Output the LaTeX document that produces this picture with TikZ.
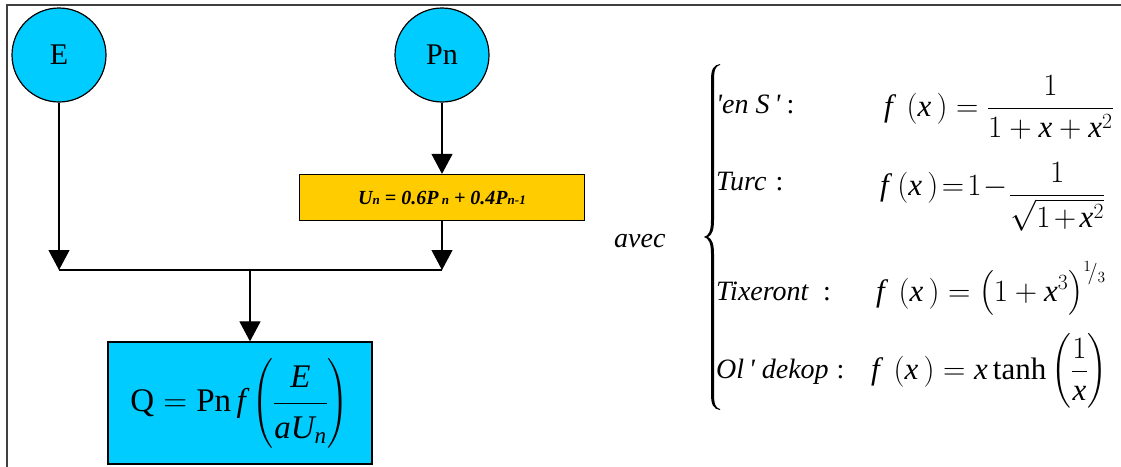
\RequirePackage{fix-cm}
\documentclass[tikz,border=0pt]{standalone}
\usepackage{amsmath}
\usepackage{fontspec}
\setmainfont{Liberation Serif}
\newfontfamily\tnr{Liberation Serif}
\usetikzlibrary{arrows.meta}
\definecolor{cyanfill}{RGB}{0,204,255}
\definecolor{yellowfill}{RGB}{255,204,0}
\definecolor{framecol}{RGB}{64,64,64}
\newcommand\mi[1]{\textit{#1}}
\newcommand\lowsub[1]{{\fontsize{13}{13}\selectfont #1}}
\newcommand\qt{\textquotesingle}
\newcommand\fx{\mi{f}\;\left(\mi{x}\,\right)}
\tikzset{
  circ/.style={circle, draw, line width=1.2pt, fill=cyanfill, minimum size=94pt, inner sep=0pt, font=\tnr\fontsize{30}{36}\selectfont},
  ubox/.style={draw, line width=1.2pt, fill=yellowfill, minimum width=285pt, minimum height=46pt, inner sep=0pt, font=\tnr\fontsize{20}{24}\selectfont\bfseries\itshape},
  qbox/.style={draw, line width=1.2pt, fill=cyanfill, minimum width=264pt, minimum height=122pt, inner sep=0pt, font=\tnr\fontsize{33}{38}\selectfont},
  arr/.style={line width=1.1pt, -{Triangle[width=21pt,length=20pt]}},
  conn/.style={line width=1.1pt},
  lbl/.style={inner sep=0pt, font=\tnr\fontsize{28}{34}\selectfont, anchor=base west},
  fml/.style={inner sep=0pt, font=\tnr\fontsize{31}{36}\selectfont, anchor=base west},
}
\begin{document}
\begin{tikzpicture}[x=1pt,y=-1pt]
\useasboundingbox (0,0) rectangle (1121,466);
\draw[framecol, line width=1.5pt] (7,480) -- (7,5) -- (1130,5);

\node[circ] (E) at (59,55) {E};
\node[circ] (Pn) at (442,55) {Pn};
\node[ubox] (U) at (442,197.5) {U\lowsub{n} = 0.6P\,\lowsub{n} + 0.4P\lowsub{n-1}};
\node[qbox] (Q) at (240,403) {$\text{Q}=\text{Pn}\,\mi{f}\left(\dfrac{\mi{E}\rule[-12pt]{0pt}{20pt}}{\rule{0pt}{32pt}\mi{a}\mi{U}_{\mi{n}}}\right)$};

\coordinate (jE) at (59,270);
\coordinate (jU) at (442,270);
\coordinate (jM) at (250,270);
\draw[arr] (E) -- (jE);
\draw[arr] (Pn) -- (U);
\draw[arr] (U) -- (jU);
\draw[conn] (jE) -- (jU);
\draw[arr] (jM) -- (jM |- Q.north);

\node[lbl] (avec) at (614,247) {\itshape avec};
\fill (720,64) .. controls (713.5,65) and (711,69) .. (711,80) -- (711,220)
  .. controls (711,231) and (709,235.5) .. (704,237)
  .. controls (709,238.5) and (711,243) .. (711,254) -- (711,394)
  .. controls (711,405) and (713.5,409) .. (720,410)
  -- (720,409) .. controls (715.5,408) and (714,404) .. (714,394) -- (714,254)
  .. controls (714,244) and (712,239) .. (708,237)
  .. controls (712,235) and (714,230) .. (714,220) -- (714,80)
  .. controls (714,70) and (715.5,66) .. (720,65) -- cycle;

\node[lbl] (l1) at (716,113) {\textit{\qt en S\,\qt}\hspace{6pt}:};
\node[fml] (f1) at (884,116) {$\fx=\dfrac{1}{1+\mi{x}+\mi{x}^2}$};

\node[lbl] (l2) at (716,190) {\textit{Turc}\hspace{9pt}:};
\node[fml] (f2) at (880,195) {$\medmuskip=1mu\thickmuskip=2mu\fx=1-\raisebox{-8pt}{$\displaystyle\medmuskip=2mu\dfrac{1}{\sqrt{1+\mi{x}^2}}$}$};

\node[lbl] (l3) at (716,300) {\textit{Tixeront}\hspace{14pt}:};
\node[fml] (f3) at (876,301) {$\fx=\left(1+\mi{x}^3\right)^{{}^1\!/_3}$};

\node[lbl] (l4) at (716,378) {\textit{Ol\,\qt\ dekop}\hspace{8pt}:};
\node[fml] (f4) at (871,379) {$\fx=\mi{x}\,\text{tanh}\left(\dfrac{1}{\mi{x}}\right)$};
\end{tikzpicture}
\end{document}
